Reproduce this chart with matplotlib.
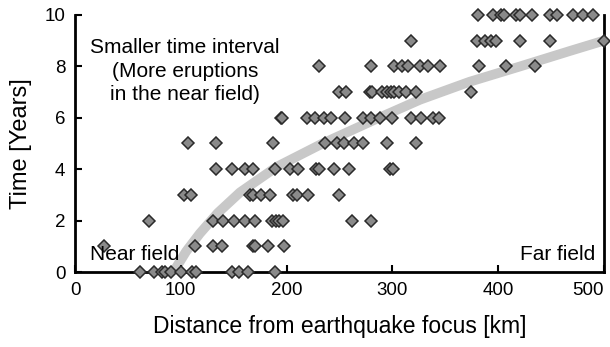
import matplotlib
matplotlib.use("Agg")
import matplotlib.pyplot as plt
import numpy as np

plt.rcParams['font.family'] = ['Liberation Sans', 'DejaVu Sans']

# Scatter data: distance (km) for each time value (years)
row0 = [61, 75, 82, 85, 91, 100, 111, 114, 148, 155, 164, 189]
row1 = [27, 113, 130, 139, 168, 170, 182, 198]
row2 = [70, 130, 140, 150, 161, 170, 186, 190, 193, 197, 262, 280]
row3 = [103, 110, 165, 168, 176, 184, 206, 210, 220, 250]
row4 = [133, 148, 161, 168, 189, 203, 211, 228, 231, 245, 259, 298, 301]
row5 = [107, 133, 187, 236, 248, 254, 264, 272, 295, 322]
row6 = [195, 196, 219, 227, 235, 242, 255, 272, 280, 288, 300, 318, 327, 338, 344]
row7 = [250, 256, 279, 281, 290, 295, 299, 302, 306, 313, 322, 374]
row8 = [231, 280, 302, 309, 315, 326, 334, 345, 382, 407, 435]
row9 = [318, 380, 388, 393, 398, 421, 449, 500]
row10 = [381, 395, 403, 406, 417, 421, 432, 449, 456, 471, 480, 490]
rows = [row0, row1, row2, row3, row4, row5, row6, row7, row8, row9, row10]

# Trend curve
curve_x = [93, 105, 118, 135, 156, 191, 234, 282, 326, 373, 421, 468, 500]
curve_y = [0, 0.8, 1.5, 2.3, 3.1, 4.1, 5.0, 5.9, 6.7, 7.4, 8.0, 8.6, 9.0]

x_ticks = [0, 100, 200, 300, 400, 500]
y_ticks = [0, 2, 4, 6, 8, 10]

fig = plt.figure(figsize=(6.1, 3.47), dpi=100)
ax = fig.add_axes([0.123, 0.216, 0.867, 0.741])

ax.plot(curve_x, curve_y, color='#c8c8c8', lw=7, solid_capstyle='butt', zorder=1)

xs, ys = [], []
for t, r in enumerate(rows):
    xs.extend(r)
    ys.extend([t] * len(r))
ax.plot(xs, ys, linestyle='none', marker='D', markersize=6.3,
        markerfacecolor='#8a8a8a', markeredgecolor='#2a2a2a',
        markeredgewidth=1.1, clip_on=False, zorder=3)

ax.set_xlim(0, 500)
ax.set_ylim(0, 10)
ax.set_xticks(x_ticks)
ax.set_yticks(y_ticks)
ax.tick_params(direction='in', length=5, width=1.5, labelsize=13.5, pad=7)
ax.tick_params(axis='x', top=False)
for s in ['left', 'bottom', 'right']:
    ax.spines[s].set_linewidth(2)
    ax.spines[s].set_color('black')
ax.spines['top'].set_visible(False)

xl = ax.get_xticklabels()
xl[-1].set_horizontalalignment('right')
xl[-1].set_x(500)

ax.set_xlabel('Distance from earthquake focus [km]', fontsize=16.5, labelpad=12)
ax.set_ylabel('Time [Years]', fontsize=17, labelpad=9)

ax.text(104, 7.8, 'Smaller time interval\n(More eruptions\nin the near field)',
        ha='center', va='center', fontsize=15, linespacing=1.3, zorder=4)
ax.text(14, 0.3, 'Near field', ha='left', va='bottom', fontsize=15, zorder=4)
ax.text(492, 0.3, 'Far field', ha='right', va='bottom', fontsize=15, zorder=4)

fig.savefig('out.png', dpi=100)
